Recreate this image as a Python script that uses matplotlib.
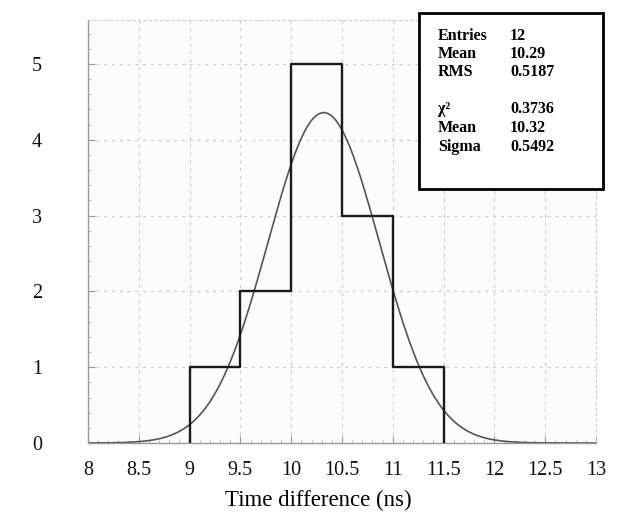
import numpy as np
import matplotlib
matplotlib.use("Agg")
import matplotlib.pyplot as plt
from matplotlib.ticker import MultipleLocator

# Data
bin_edges = [9.0, 9.5, 10.0, 10.5, 11.0, 11.5]
counts = [1, 2, 5, 3, 1]
fit_mean = 10.32
fit_sigma = 0.5492
entries = 12
xticks = [8, 8.5, 9, 9.5, 10, 10.5, 11, 11.5, 12, 12.5, 13]
xtick_labels = ["8", "8.5", "9", "9.5", "10", "10.5", "11", "11.5", "12", "12.5", "13"]
yticks = [0, 1, 2, 3, 4, 5]
stat_names = ["Entries", "Mean", "RMS", "", "χ²", "Mean", "Sigma"]
stat_values = ["12", "10.29", "0.5187", "", "0.3736", "10.32", "0.5492"]

serif = ["Liberation Serif", "DejaVu Serif"]

fig = plt.figure(figsize=(6.18, 5.14), dpi=100)
fig.patch.set_facecolor("white")
ax = fig.add_axes([88/618, 1-443/514, (596-88)/618, (443-20)/514])
ax.set_facecolor("#fcfcfc")

# histogram as step outline
xs = [bin_edges[0]]
ys = [0]
for i, c in enumerate(counts):
    xs += [bin_edges[i], bin_edges[i+1]]
    ys += [c, c]
xs += [bin_edges[-1]]
ys += [0]
ax.plot(xs, ys, color="#1a1a1a", lw=1.7, zorder=3)

# gaussian fit
bw = bin_edges[1] - bin_edges[0]
amp = entries * bw / (fit_sigma * np.sqrt(2*np.pi))
gx = np.linspace(8, 13, 500)
gy = amp * np.exp(-0.5*((gx-fit_mean)/fit_sigma)**2)
ax.plot(gx, gy, color="#555555", lw=1.2, zorder=2)

ax.set_xlim(8, 13)
ax.set_ylim(0, 5.58)
ax.set_xticks(xticks)
ax.set_xticklabels(xtick_labels)
ax.set_yticks(yticks)
ax.yaxis.set_minor_locator(MultipleLocator(0.2))
ax.xaxis.set_minor_locator(MultipleLocator(0.1))
ax.grid(True, which="major", color="#cccccc", ls=(0, (3, 4)), lw=0.8)
ax.tick_params(which="major", direction="in", length=5, color="#999999", width=0.8)
ax.tick_params(which="minor", direction="in", length=2.5, color="#aaaaaa", width=0.6)
ax.tick_params(axis="y", pad=33)
ax.tick_params(axis="x", pad=13)
for lab in ax.get_xticklabels() + ax.get_yticklabels():
    lab.set_fontfamily(serif)
    lab.set_fontsize(14.5)
    lab.set_color("#111111")
for s in ["left", "bottom"]:
    ax.spines[s].set_color("#999999")
    ax.spines[s].set_linewidth(1.0)
for s in ["top", "right"]:
    ax.spines[s].set_color("#cccccc")
    ax.spines[s].set_linestyle((0, (2, 3)))
    ax.spines[s].set_linewidth(0.8)

ax.set_xlabel("Time difference (ns)", fontfamily=serif, fontsize=16.5)
ax.xaxis.set_label_coords((318-88)/508, -(500-443)/423, transform=ax.transAxes)
ax.xaxis.label.set_va("center")

# stats box
bx0, by0, bx1, by1 = 419, 13, 603, 189
box = plt.Rectangle((bx0/618, 1-by1/514), (bx1-bx0)/618, (by1-by0)/514,
                    transform=fig.transFigure, facecolor="white",
                    edgecolor="black", lw=2, zorder=10)
fig.add_artist(box)
row_y = [36, 54, 72, 0, 109, 128, 147]
for name, val, ry in zip(stat_names, stat_values, row_y):
    if not name:
        continue
    fig.text(438/618, 1-ry/514, name, fontfamily=serif, fontsize=11.5,
             fontweight="bold", va="center", ha="left", zorder=11)
    fig.text(510/618, 1-ry/514, val, fontfamily=serif, fontsize=11.5,
             fontweight="bold", va="center", ha="left", zorder=11)

fig.savefig("out.png", dpi=100)
